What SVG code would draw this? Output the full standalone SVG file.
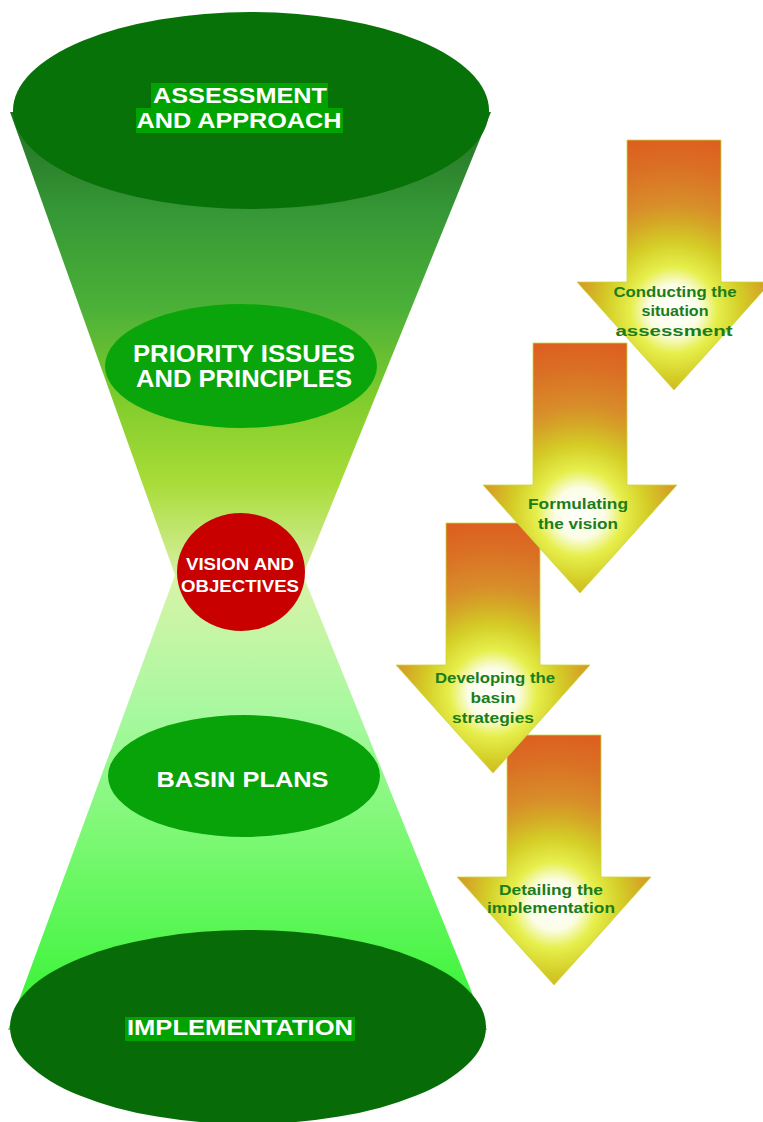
<svg xmlns="http://www.w3.org/2000/svg" width="763" height="1122" viewBox="0 0 763 1122">
  <defs>
    <linearGradient id="gUpper" x1="0" y1="112" x2="0" y2="575" gradientUnits="userSpaceOnUse">
      <stop offset="0" stop-color="#237023"/>
      <stop offset="0.22" stop-color="#369836"/>
      <stop offset="0.42" stop-color="#4bb038"/>
      <stop offset="0.62" stop-color="#80cc2c"/>
      <stop offset="0.8" stop-color="#a8dc38"/>
      <stop offset="1" stop-color="#d6f0a0"/>
    </linearGradient>
    <linearGradient id="gLower" x1="0" y1="575" x2="0" y2="1030" gradientUnits="userSpaceOnUse">
      <stop offset="0" stop-color="#d8f4a8"/>
      <stop offset="0.3" stop-color="#a8f8a0"/>
      <stop offset="0.6" stop-color="#78f870"/>
      <stop offset="0.85" stop-color="#4cf548"/>
      <stop offset="1" stop-color="#2ef02e"/>
    </linearGradient>
    <radialGradient id="gArrow" cx="0" cy="170" r="180" gradientUnits="userSpaceOnUse">
      <stop offset="0" stop-color="#ffffff"/>
      <stop offset="0.14" stop-color="#fbfde6"/>
      <stop offset="0.24" stop-color="#e6ef4c"/>
      <stop offset="0.38" stop-color="#d4cc26"/>
      <stop offset="0.5" stop-color="#d5a626"/>
      <stop offset="0.6" stop-color="#d88c2a"/>
      <stop offset="0.8" stop-color="#da7024"/>
      <stop offset="1" stop-color="#de5a1e"/>
    </radialGradient>
    <path id="arrowShape" d="M-47,0 H47 V142 H97 L0,250 L-97,142 H-47 Z"/>
  </defs>
  <style>
    .main { font-family: "Liberation Sans", Arial, sans-serif; font-weight: bold; fill: #ffffff; text-anchor: middle; }
    .step { font-family: "Liberation Sans", Arial, sans-serif; font-weight: bold; fill: #1a7d1a; text-anchor: middle; font-size: 15.5px; }
    .hl { fill: #00a300; }
    .arrow { fill: url(#gArrow); stroke: #c8d838; stroke-width: 0.8; }
  </style>

  <!-- funnel body -->
  <g id="funnel">
    <polygon points="10,112 491,112 303,575 175,575" fill="url(#gUpper)"/>
    <polygon points="175,575 303,575 487,1030 8,1030" fill="url(#gLower)"/>
  </g>

  <g id="node-assessment">
    <ellipse cx="251" cy="110.5" rx="238" ry="98.5" fill="#077207"/>
    <rect class="hl" x="151" y="83" width="177" height="25"/>
    <rect class="hl" x="136" y="108" width="207" height="25"/>
    <text class="main" x="240" y="103" font-size="22" textLength="174" lengthAdjust="spacingAndGlyphs">ASSESSMENT</text>
    <text class="main" x="239" y="128" font-size="22" textLength="205" lengthAdjust="spacingAndGlyphs">AND APPROACH</text>
  </g>

  <g id="node-priority">
    <ellipse cx="241" cy="366" rx="136" ry="62" fill="#0aa50a"/>
    <text class="main" x="244" y="362" font-size="23" textLength="222" lengthAdjust="spacingAndGlyphs">PRIORITY ISSUES</text>
    <text class="main" x="244" y="387" font-size="23" textLength="216" lengthAdjust="spacingAndGlyphs">AND PRINCIPLES</text>
  </g>

  <g id="node-vision">
    <ellipse cx="241" cy="572" rx="64" ry="59" fill="#c80000"/>
    <text class="main" x="240" y="570" font-size="17" textLength="108" lengthAdjust="spacingAndGlyphs">VISION AND</text>
    <text class="main" x="240" y="592" font-size="17" textLength="118" lengthAdjust="spacingAndGlyphs">OBJECTIVES</text>
  </g>

  <g id="node-basin">
    <ellipse cx="244" cy="776" rx="136" ry="61" fill="#08a308"/>
    <text class="main" x="242.5" y="787" font-size="21.5" textLength="172" lengthAdjust="spacingAndGlyphs">BASIN PLANS</text>
  </g>

  <g id="node-implementation">
    <ellipse cx="248" cy="1027" rx="238" ry="97" fill="#076c07"/>
    <rect class="hl" x="125" y="1017" width="230" height="24"/>
    <text class="main" x="240" y="1035" font-size="21.5" textLength="226" lengthAdjust="spacingAndGlyphs">IMPLEMENTATION</text>
  </g>

  <!-- process arrows (drawn back to front) -->
  <g id="connectors">
    <g id="step-detailing" transform="translate(554,735)">
      <use href="#arrowShape" class="arrow"/>
      <text class="step" x="-3" y="160" textLength="104" lengthAdjust="spacingAndGlyphs">Detailing the</text>
      <text class="step" x="-3" y="178" textLength="128" lengthAdjust="spacingAndGlyphs">implementation</text>
    </g>
    <g id="step-developing" transform="translate(493,523)">
      <use href="#arrowShape" class="arrow"/>
      <text class="step" x="2" y="160" textLength="120" lengthAdjust="spacingAndGlyphs">Developing the</text>
      <text class="step" x="0" y="180" textLength="45" lengthAdjust="spacingAndGlyphs">basin</text>
      <text class="step" x="0" y="200" textLength="82" lengthAdjust="spacingAndGlyphs">strategies</text>
    </g>
    <g id="step-formulating" transform="translate(580,343)">
      <use href="#arrowShape" class="arrow"/>
      <text class="step" x="-2" y="166" textLength="100" lengthAdjust="spacingAndGlyphs">Formulating</text>
      <text class="step" x="-2" y="186" textLength="80" lengthAdjust="spacingAndGlyphs">the vision</text>
    </g>
    <g id="step-conducting" transform="translate(674,140)">
      <use href="#arrowShape" class="arrow"/>
      <text class="step" x="1" y="157" textLength="123" lengthAdjust="spacingAndGlyphs">Conducting the</text>
      <text class="step" x="1" y="176" textLength="67" lengthAdjust="spacingAndGlyphs">situation</text>
      <text class="step" x="0" y="196" textLength="117" lengthAdjust="spacingAndGlyphs">assessment</text>
    </g>
  </g>
</svg>
